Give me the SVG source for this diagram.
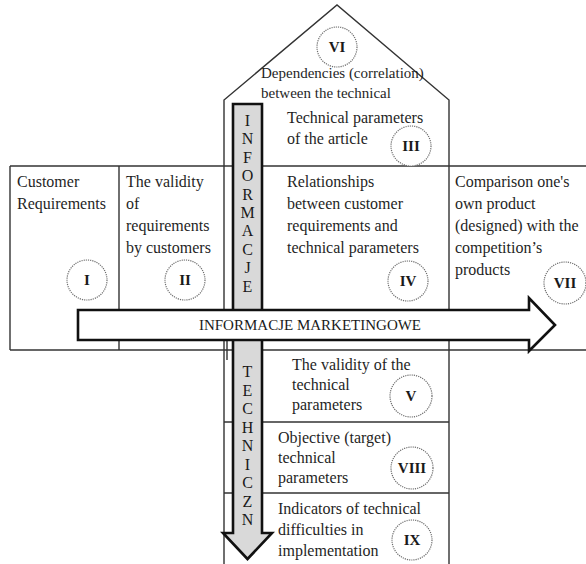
<svg xmlns="http://www.w3.org/2000/svg" width="586" height="564" viewBox="0 0 586 564">
  <style>
    .grid { fill: none; stroke: #333333; stroke-width: 1.4; }
    .txt { font-family: "Liberation Serif", "Times New Roman", serif; font-size: 16px; fill: #1f1f1f; }
    .small { font-size: 15px; }
    .num { font-family: "Liberation Serif", "Times New Roman", serif; font-size: 15px; font-weight: bold; fill: #1a1a1a; text-anchor: middle; }
    .badge { fill: #ffffff; stroke: #6e6e6e; stroke-width: 1.2; stroke-dasharray: 1.2 1; }
    .block { stroke: #111111; stroke-width: 2.6; stroke-linejoin: miter; }
    .letter { font-family: "Liberation Serif", "Times New Roman", serif; font-size: 16px; fill: #1a1a1a; text-anchor: middle; }
    .banner { font-family: "Liberation Serif", "Times New Roman", serif; font-size: 15px; fill: #1a1a1a; text-anchor: middle; }
  </style>

  <rect width="586" height="564" fill="#ffffff"/>

  <!-- table frame and the house outline -->
  <g id="grid" class="grid">
    <path d="M224,564 L224,100 L337,5 L449,100 L449,564"/>
    <line x1="10" y1="166" x2="586" y2="166"/>
    <line x1="10" y1="350" x2="586" y2="350"/>
    <line x1="10" y1="166" x2="10" y2="350"/>
    <line x1="119" y1="166" x2="119" y2="350"/>
    <line x1="224" y1="422" x2="449" y2="422"/>
    <line x1="224" y1="493" x2="449" y2="493"/>
    <line x1="227" y1="341" x2="227" y2="360"/>
  </g>

  <g id="node-VI">
    <text class="txt small" x="261" y="78">Dependencies (correlation)</text>
    <text class="txt small" x="261" y="98">between the technical</text>
    <circle class="badge" cx="337" cy="47" r="20"/>
    <text class="num" x="337" y="52">VI</text>
  </g>

  <g id="node-I">
    <text class="txt" x="17" y="187">Customer</text>
    <text class="txt" x="17" y="209">Requirements</text>
    <circle class="badge" cx="87" cy="280" r="20"/>
    <text class="num" x="87" y="285">I</text>
  </g>

  <g id="node-II">
    <text class="txt" x="126" y="187">The validity</text>
    <text class="txt" x="126" y="209">of</text>
    <text class="txt" x="126" y="231">requirements</text>
    <text class="txt" x="126" y="253">by customers</text>
    <circle class="badge" cx="185" cy="280" r="20"/>
    <text class="num" x="185" y="285">II</text>
  </g>

  <g id="node-III">
    <text class="txt" x="287" y="123">Technical parameters</text>
    <text class="txt" x="287" y="144">of the article</text>
    <circle class="badge" cx="411" cy="146" r="20"/>
    <text class="num" x="411" y="151">III</text>
  </g>

  <g id="node-IV">
    <text class="txt" x="287" y="187">Relationships</text>
    <text class="txt" x="287" y="209">between customer</text>
    <text class="txt" x="287" y="231">requirements and</text>
    <text class="txt" x="287" y="253">technical parameters</text>
    <circle class="badge" cx="408" cy="281" r="20"/>
    <text class="num" x="408" y="286">IV</text>
  </g>

  <g id="node-VII">
    <text class="txt" x="455" y="187">Comparison one's</text>
    <text class="txt" x="455" y="209">own product</text>
    <text class="txt" x="455" y="231">(designed) with the</text>
    <text class="txt" x="455" y="253">competition’s</text>
    <text class="txt" x="455" y="275">products</text>
    <circle class="badge" cx="565" cy="283" r="21"/>
    <text class="num" x="565" y="288">VII</text>
  </g>

  <g id="node-V">
    <text class="txt" x="292" y="370">The validity of the</text>
    <text class="txt" x="292" y="390">technical</text>
    <text class="txt" x="292" y="410">parameters</text>
    <circle class="badge" cx="411" cy="396" r="21"/>
    <text class="num" x="411" y="401">V</text>
  </g>

  <g id="node-VIII">
    <text class="txt" x="278" y="443">Objective (target)</text>
    <text class="txt" x="278" y="463">technical</text>
    <text class="txt" x="278" y="483">parameters</text>
    <circle class="badge" cx="412" cy="468" r="21"/>
    <text class="num" x="412" y="473">VIII</text>
  </g>

  <g id="node-IX">
    <text class="txt" x="278" y="514">Indicators of technical</text>
    <text class="txt" x="278" y="535">difficulties in</text>
    <text class="txt" x="278" y="556">implementation</text>
    <circle class="badge" cx="412" cy="540" r="20"/>
    <text class="num" x="412" y="545">IX</text>
  </g>

  <!-- information flows: vertical (technical) and horizontal (marketing) -->
  <g id="connectors">
    <g id="flow-technical">
      <path class="block" fill="#d9d9d9" d="M233,104 L262,104 L262,533 L272,533 L247.5,559 L223,533 L233,533 Z"/>
      <text class="letter" x="247.5" y="126">I</text>
      <text class="letter" x="247.5" y="144.4">N</text>
      <text class="letter" x="247.5" y="162.8">F</text>
      <text class="letter" x="247.5" y="181.2">O</text>
      <text class="letter" x="247.5" y="199.6">R</text>
      <text class="letter" x="247.5" y="218">M</text>
      <text class="letter" x="247.5" y="236.4">A</text>
      <text class="letter" x="247.5" y="254.8">C</text>
      <text class="letter" x="247.5" y="273.2">J</text>
      <text class="letter" x="247.5" y="291.6">E</text>
      <text class="letter" x="247.5" y="377">T</text>
      <text class="letter" x="247.5" y="395.5">E</text>
      <text class="letter" x="247.5" y="414">C</text>
      <text class="letter" x="247.5" y="432.5">H</text>
      <text class="letter" x="247.5" y="451">N</text>
      <text class="letter" x="247.5" y="469.5">I</text>
      <text class="letter" x="247.5" y="488">C</text>
      <text class="letter" x="247.5" y="506.5">Z</text>
      <text class="letter" x="247.5" y="525">N</text>
    </g>
    <g id="flow-marketing">
      <path class="block" fill="#ffffff" d="M78,310 L529,310 L529,298 L555,325 L529,351 L529,340 L78,340 Z"/>
      <text class="banner" x="310" y="330">INFORMACJE MARKETINGOWE</text>
    </g>
  </g>
</svg>
